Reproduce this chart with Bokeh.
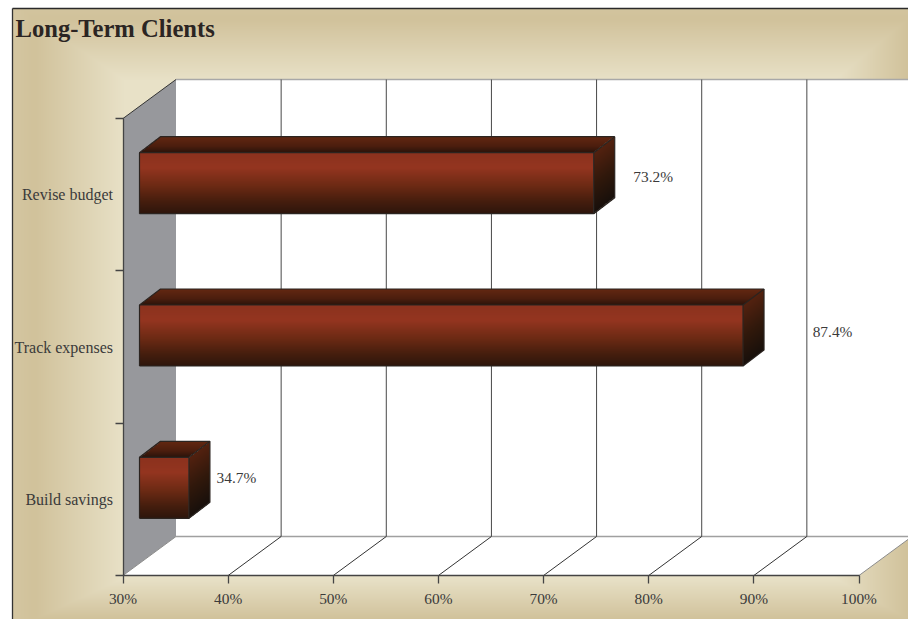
import numpy as np
from bokeh.plotting import figure
from bokeh.models import LinearAxis, FixedTicker, Range1d
from bokeh.core.properties import value
from bokeh.embed import file_html
from bokeh.resources import INLINE

# ---- chart values
title = "Long-Term Clients"
categories = ["Revise budget", "Track expenses", "Build savings"]
values = [73.2, 87.4, 34.7]
x_ticks = [30, 40, 50, 60, 70, 80, 90, 100]
x_tick_labels = ["30%", "40%", "50%", "60%", "70%", "80%", "90%", "100%"]
value_labels = ["73.2%", "87.4%", "34.7%"]

# ---- layout constants
W, H = 908, 619
PX0, PX1 = 122.5, 858.5          # pixel position of 30% / 100% on the front axis
PY0, PY3 = 575.0, 118.0          # pixel position of the bottom / top of the category axis
KX = (PX1 - PX0) / 70.0
KY = (PY0 - PY3) / 3.0
FONT = "Liberation Serif"

def px(dp):      # pixels to x-data length
    return dp / KX
def py(dp):      # pixels to y-data length
    return dp / KY

X0 = 30 + (0 - PX0) / KX
X1 = 30 + (W - PX0) / KX
Y0 = (PY0 - H) / KY
Y1 = PY0 / KY

p = figure(width=W, height=H, x_range=Range1d(X0, X1), y_range=Range1d(Y0, Y1),
           output_backend="svg", toolbar_location=None, min_border=0,
           x_axis_type=None, y_axis_type=None)
p.outline_line_color = None
p.grid.visible = False
p.background_fill_color = "#ffffff"
p.border_fill_color = "#ffffff"


def to_image(rgb, alpha=None):
    """rgb: rows from top to bottom, floats; returns a Bokeh RGBA image."""
    h, w = rgb.shape[:2]
    img = np.zeros((h, w), dtype=np.uint32)
    view = img.view(dtype=np.uint8).reshape((h, w, 4))
    view[..., 0:3] = np.clip(rgb, 0, 255).astype(np.uint8)
    view[..., 3] = 255 if alpha is None else alpha
    return img[::-1]

# ---- bevelled beige background (pixel array)
yy, xx = np.mgrid[0:H, 0:W]
X = xx + 0.5
Y = yy + 0.5
IL, IR, IT, IB = 123.0, 835.0, 79.0, 578.0
tl = np.clip((IL - X) / (IL - 34.0), 0, None)
tr = np.clip((X - IR) / (908.0 - IR), 0, None)
tt = np.clip((IT - Y) / (IT - 18.0), 0, None)
tb = np.clip((Y - IB) / (619.0 - IB), 0, None)
t = np.clip(np.maximum.reduce([tl, tr, tt, tb]), 0, 1.25)
t = np.where(t > 1, 1 - (t - 1) * 0.6, t)
dark = np.array([209, 194, 155.0])
light = np.array([232, 225, 199.0])
rgb = light[None, None, :] + (dark - light)[None, None, :] * t[..., None]
alpha = np.where((X < 12) | (Y < 8), 0, 255)
p.image_rgba(image=[to_image(rgb, alpha)], x=X0, y=Y0, dw=X1 - X0, dh=Y1 - Y0)

# frame lines
FL, FT = X0 + px(12), Y1 - py(8)
p.line([FL, FL], [Y0, FT], line_color="#333333", line_width=1.3)
p.line([FL, X1], [FT, FT], line_color="#2a2a2a", line_width=1.5)

# ---- 3D box of the chart
DX, DY = px(53), py(39)
xa, xb = x_ticks[0], x_ticks[-1]
top, bot = 3.0, 0.0
p.patch([xa + DX, xb + DX, xb + DX, xa + DX], [bot + DY, bot + DY, top + DY, top + DY],
        fill_color="#ffffff", line_color=None)
p.patch([xa, xa + DX, xa + DX, xa], [bot, bot + DY, top + DY, top],
        fill_color="#97989c", line_color=None)
p.patch([xa, xb, xb + DX, xa + DX], [bot, bot, bot + DY, bot + DY],
        fill_color="#ffffff", line_color=None)
p.line([xa + DX, xb + DX], [top + DY, top + DY], line_color="#a8a8a8", line_width=1.3)
p.line([xa + DX, xb + DX], [bot + DY, bot + DY], line_color="#a0a0a0", line_width=1.3)
p.line([xa, xa + DX], [top, top + DY], line_color="#333333", line_width=1)
p.line([xa, xa + DX], [bot, bot + DY], line_color="#8c8c8c", line_width=1)
p.line([xb, xb + DX], [bot, bot + DY], line_color="#8c8c8c", line_width=1)
inner = x_ticks[1:-1]
p.multi_line([[t_ + DX, t_ + DX] for t_ in inner], [[bot + DY, top + DY] for _ in inner],
             line_color="#484848", line_width=1)
p.multi_line([[t_, t_ + DX] for t_ in inner], [[bot, bot + DY] for _ in inner],
             line_color="#333333", line_width=1)

# ---- gradient faces of the bars
def ramp(stops, f):
    pos = [s[0] for s in stops]
    cols = np.array([s[1] for s in stops], dtype=float)
    return np.stack([np.interp(f, pos, cols[:, k]) for k in range(3)], axis=-1)

FRONT = [(0, (140, 50, 30)), (0.25, (148, 53, 32)), (0.55, (108, 42, 20)),
         (0.8, (70, 30, 14)), (1, (46, 22, 12))]
TOP = [(0, (100, 40, 18)), (0.6, (76, 30, 14)), (1, (42, 20, 11))]
SIDE = [(0, (84, 34, 16)), (0.5, (50, 25, 12)), (1, (24, 16, 11))]

FXP, FYP = 16.5, 11.5   # pixel offset of the bars' front face
BXP, BYP = 21, 16       # pixel depth of a bar
HP = 61                 # pixel height of the front face
FX, FY, BX, BY = px(FXP), py(FYP), px(BXP), py(BYP)
HALF = py(HP / 2)

for i, v in enumerate(values):
    yc = 2.5 - i + FY
    x_l, x_r = xa + FX, v + FX
    y_b, y_t = yc - HALF, yc + HALF
    wp = max(1, int(round((x_r - x_l) * KX)))
    # front face
    f = (np.arange(HP)[:, None] + 0.5) / HP
    p.image_rgba(image=[to_image(ramp(FRONT, np.repeat(f, 2, axis=1)))],
                 x=x_l, y=y_b, dw=x_r - x_l, dh=y_t - y_b)
    # top face
    rows, cols = np.mgrid[0:BYP, 0:wp + BXP]
    fr = (rows + 0.5) / BYP
    cx = cols + 0.5
    mask = (cx >= BXP * (1 - fr)) & (cx <= wp + BXP * (1 - fr))
    p.image_rgba(image=[to_image(ramp(TOP, fr), np.where(mask, 255, 0))],
                 x=x_l, y=y_t, dw=x_r + BX - x_l, dh=BY)
    # side face
    rows, cols = np.mgrid[0:HP + BYP, 0:BXP]
    fc = (cols + 0.5) / BXP
    fs = (rows + 0.5 - BYP * (1 - fc)) / HP
    mask = (fs >= 0) & (fs <= 1)
    p.image_rgba(image=[to_image(ramp(SIDE, np.clip(fs, 0, 1)), np.where(mask, 255, 0))],
                 x=x_r, y=y_b, dw=BX, dh=y_t + BY - y_b)
    # outlines
    edge = "#2b2420"
    p.multi_line(
        [[x_l, x_r, x_r, x_l, x_l], [x_l, x_l + BX, x_r + BX, x_r], [x_r + BX, x_r + BX, x_r]],
        [[y_b, y_b, y_t, y_t, y_b], [y_t, y_t + BY, y_t + BY, y_t], [y_t + BY, y_b + BY, y_b]],
        line_color=edge, line_width=1.2)

# ---- value labels
label_x = [v + d for v, d in zip(values, [px(76), px(106), px(64)])]
label_y = [2.5 + py(18), 1.5 + py(15.5), 0.5 + py(22)]
p.text(label_x, label_y, text=value_labels, text_font=value(FONT), text_font_size="15.4px",
       text_color="#3a3a3a", text_align="center", text_baseline="middle")

# ---- title
p.text([X0 + px(15)], [Y1 - py(27.5)], text=[title], text_font=value(FONT), text_font_size="24.6px",
       text_font_style="bold", text_color="#2b2523", text_align="left", text_baseline="middle")

# ---- real axes, fixed inside the frame
xaxis = LinearAxis(fixed_location=0, bounds=(30, 100), ticker=FixedTicker(ticks=x_ticks),
                   major_label_overrides={t_: s for t_, s in zip(x_ticks, x_tick_labels)})
xaxis.axis_line_color = "#444444"
xaxis.axis_line_width = 1.3
xaxis.major_tick_line_color = "#444444"
xaxis.major_tick_line_width = 1.3
xaxis.major_tick_in = 0
xaxis.major_tick_out = 8
xaxis.minor_tick_line_color = None
xaxis.major_label_standoff = 6
xaxis.major_label_text_font = FONT
xaxis.major_label_text_font_size = "15.4px"
xaxis.major_label_text_color = "#3a3a3a"
p.add_layout(xaxis, "below")

yticks = LinearAxis(fixed_location=30, bounds=(0, 3), ticker=FixedTicker(ticks=[0, 1, 2, 3]))
yticks.axis_line_color = "#444444"
yticks.axis_line_width = 1.3
yticks.major_tick_line_color = "#444444"
yticks.major_tick_line_width = 1.3
yticks.major_tick_in = 0
yticks.major_tick_out = 8
yticks.minor_tick_line_color = None
yticks.major_label_text_font_size = "0px"
yticks.major_label_text_color = None
p.add_layout(yticks, "left")

centres = [2.5, 1.5, 0.5]
ylabels = LinearAxis(fixed_location=30, bounds=(0, 3), ticker=FixedTicker(ticks=centres),
                     major_label_overrides={c: s for c, s in zip(centres, categories)})
ylabels.axis_line_color = None
ylabels.major_tick_line_color = None
ylabels.minor_tick_line_color = None
ylabels.major_tick_in = 0
ylabels.major_tick_out = 0
ylabels.major_label_standoff = 10
ylabels.major_label_text_font = FONT
ylabels.major_label_text_font_size = "16px"
ylabels.major_label_text_color = "#3a3a3a"
p.add_layout(ylabels, "left")

open("out.html", "w").write(file_html(p, INLINE))
